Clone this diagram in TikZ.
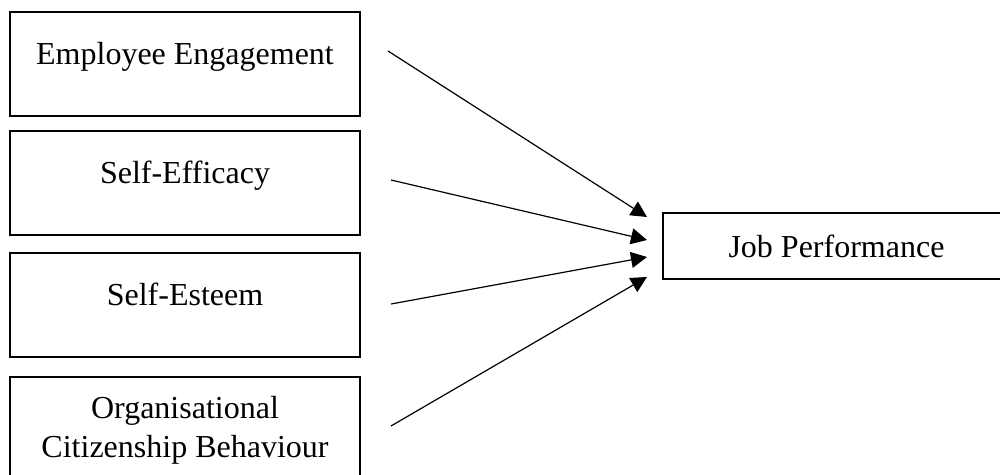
\documentclass[tikz,border=0pt]{standalone}
\usepackage{fontspec}
\setmainfont{Liberation Serif}
\usetikzlibrary{arrows.meta,calc,positioning}

\begin{document}
\begin{tikzpicture}[x=0.375pt,y=-0.375pt,
    font=\fontsize{12}{14.4}\selectfont,
    factor/.style={draw,line width=0.75pt,minimum width=131.25pt,minimum height=39pt,
      inner sep=0pt,align=center,text height=7pt,text depth=7pt},
    outcome/.style={draw,line width=0.75pt,minimum width=130.1pt,minimum height=24.75pt,inner sep=0pt},
    path/.style={line width=0.45pt,-{Triangle[length=6pt,width=6pt]}}]
  \useasboundingbox (0,0) rectangle (1000,475);
  \node[factor] (engage) at (185,64) {Employee Engagement};
  \node[factor] (efficacy) at (185,183) {Self-Efficacy};
  \node[factor] (esteem) at (185,305) {Self-Esteem};
  \node[factor,text height=22pt,text depth=1pt] (ocb) at (185,429) {Organisational\\Citizenship Behaviour};
  \node[outcome] (perf) at (836.5,246) {Job Performance};
  % free ends of the paths
  \coordinate (s1) at (388,51);
  \coordinate (s2) at (391,180);
  \coordinate (s3) at (391,304);
  \coordinate (s4) at (391,426);
  \coordinate (e1) at (647,217);
  \coordinate (e2) at (647,240);
  \coordinate (e3) at (647,257);
  \coordinate (e4) at (647,277);
  \draw[path] (s1) -- (e1);
  \draw[path] (s2) -- (e2);
  \draw[path] (s3) -- (e3);
  \draw[path] (s4) -- (e4);
\end{tikzpicture}
\end{document}
